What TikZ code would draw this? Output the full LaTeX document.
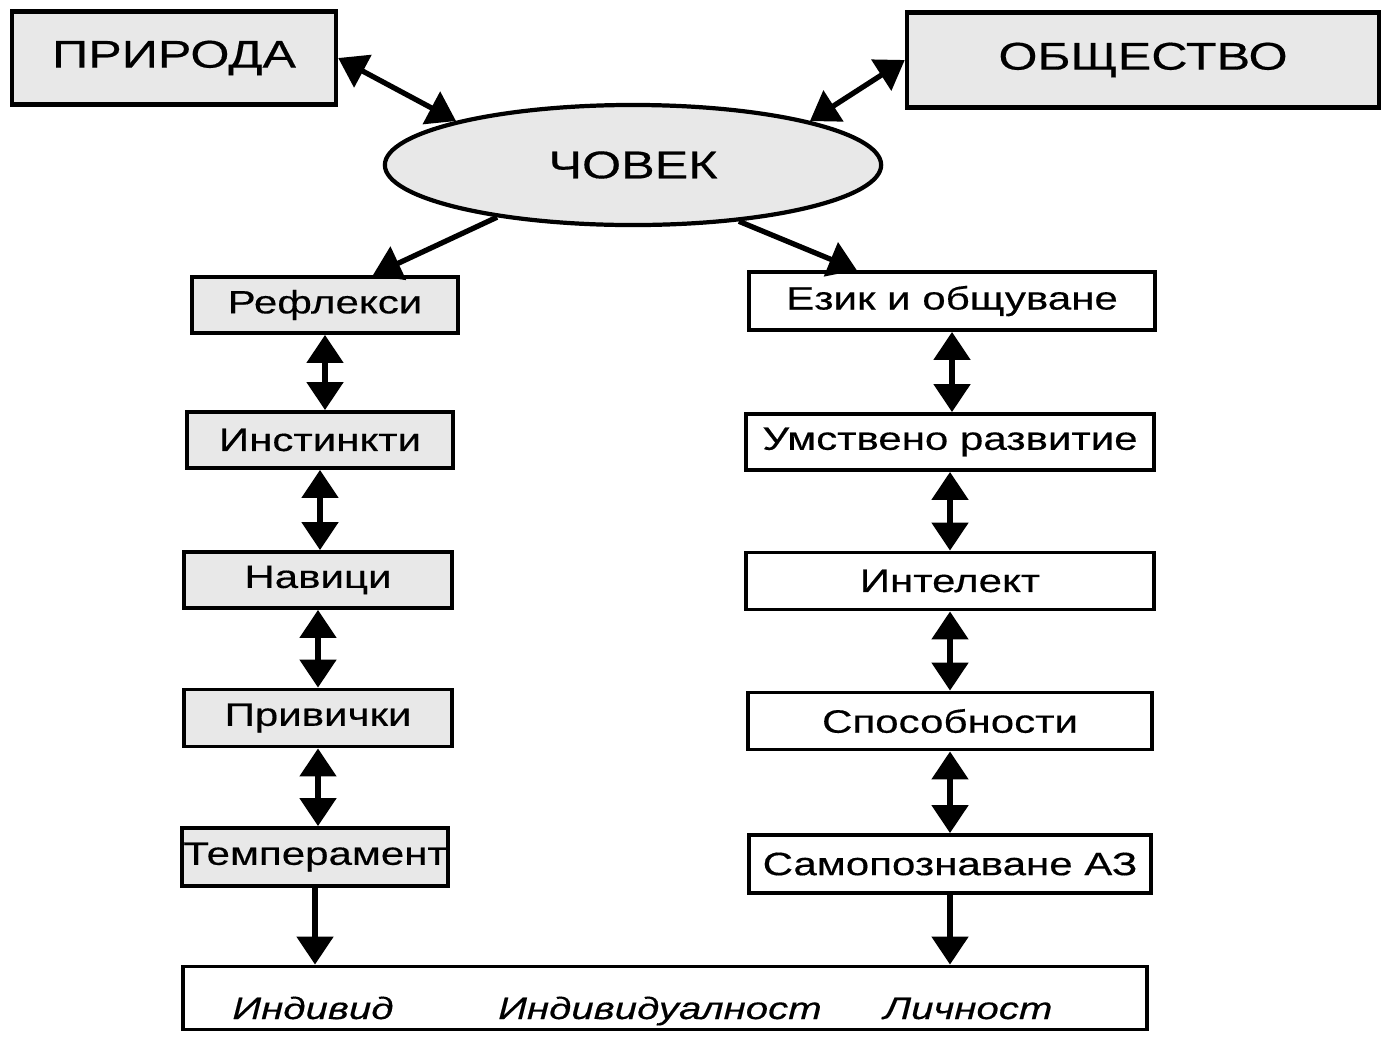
\documentclass[tikz,border=0pt]{standalone}
\usepackage{fontspec}
\setmainfont{Liberation Sans}[FakeStretch=1.3, FakeBold=0.4]
\usetikzlibrary{arrows.meta}
\usetikzlibrary{shapes.geometric}

\definecolor{boxgray}{HTML}{E8E8E8}

\tikzset{
  cell/.style={draw, line width=1.1pt, inner sep=0pt, font=\fontsize{9.2}{11}\selectfont},
  graycell/.style={cell, fill=boxgray},
  bigcell/.style={cell, fill=boxgray, line width=1.2pt, font=\fontsize{11}{13}\selectfont},
  bottomtext/.style={anchor=base, font=\fontsize{8.8}{10}\selectfont\itshape},
  link/.style={line width=1.5pt, -{Triangle[length=0.28cm, width=0.36cm]}},
  dlink/.style={line width=1.5pt, {Triangle[length=0.28cm, width=0.36cm]}-{Triangle[length=0.28cm, width=0.36cm]}},
}

\begin{document}
\begin{tikzpicture}[x=0.01cm, y=-0.01cm]

  \useasboundingbox (0,0) rectangle (1383,1036);

  % top row
  \node[bigcell, minimum width=3.24cm, minimum height=0.93cm] (prir) at (174,58) {ПРИРОДА};
  \node[bigcell, minimum width=4.72cm, minimum height=0.95cm] (obsh) at (1143,60) {ОБЩЕСТВО};
  \node[bigcell, ellipse, minimum width=4.96cm, minimum height=1.2cm] (chovek) at (633,165) {ЧОВЕК};

  % left column
  \node[graycell, minimum width=2.66cm, minimum height=0.56cm] (refl) at (325,305) {Рефлекси};
  \node[graycell, minimum width=2.66cm, minimum height=0.56cm] (inst) at (320,440) {Инстинкти};
  \node[graycell, minimum width=2.68cm, minimum height=0.56cm] (navici) at (318,580) {Навици};
  \node[graycell, minimum width=2.67cm, minimum height=0.57cm] (privi) at (318,718) {Привички};
  \node[graycell, minimum width=2.66cm, minimum height=0.58cm] (temp) at (315,857) {Темперамент};

  % right column
  \node[cell, minimum width=4.06cm, minimum height=0.58cm] (ezik) at (952,301) {Език и общуване};
  \node[cell, minimum width=4.07cm, minimum height=0.56cm] (umst) at (950,442) {Умствено развитие};
  \node[cell, minimum width=4.07cm, minimum height=0.57cm] (intel) at (950,581) {Интелект};
  \node[cell, minimum width=4.04cm, minimum height=0.57cm] (spos) at (950,721) {Способности};
  \node[cell, minimum width=4.02cm, minimum height=0.58cm] (samo) at (950,864) {Самопознаване АЗ};

  % bottom
  \node[cell, minimum width=9.64cm, minimum height=0.63cm] (final) at (665,998) {};
  \node[bottomtext] (indiv) at (313,1019) {Индивид};
  \node[bottomtext] (indivn) at (660,1019) {Индивидуалност};
  \node[bottomtext] (lichn) at (968,1019) {Личност};

  \draw[dlink] (prir.east) -- (chovek.north west);
  \draw[dlink] (obsh.west) -- (chovek.north east);
  \draw[link] (chovek.201) -- (refl.32);
  \draw[link] (chovek.-28) -- (ezik.162);

  \foreach \a/\b in {refl/inst, inst/navici, navici/privi, privi/temp,
                     ezik/umst, umst/intel, intel/spos, spos/samo}
    \draw[dlink] (\a.south) -- (\a.south |- \b.north);

  \draw[link] (temp.south) -- (temp.south |- final.north);
  \draw[link] (samo.south) -- (samo.south |- final.north);

\end{tikzpicture}
\end{document}
